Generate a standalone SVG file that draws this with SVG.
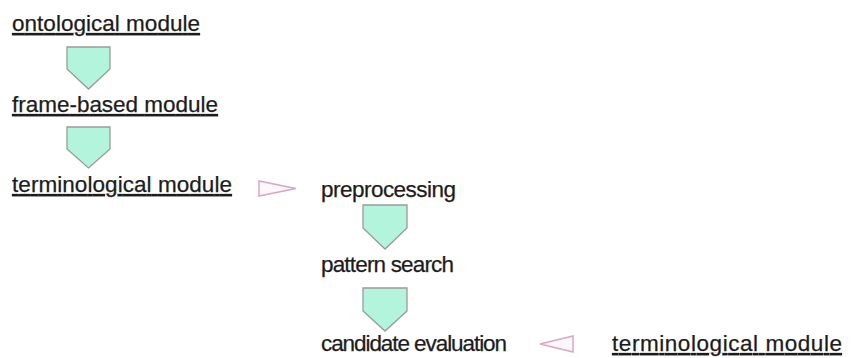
<svg xmlns="http://www.w3.org/2000/svg" width="853" height="358" viewBox="0 0 853 358">
<style>
text{font-family:"Liberation Sans",Arial,sans-serif;font-size:22.5px;fill:#1c1c1c;stroke:#1c1c1c;stroke-width:0.25}
.u{text-decoration:underline}
.pent{fill:#b3f5dc;stroke:#9a9a9a;stroke-width:1.3}
.tri{fill:#fdf6fa;stroke:#d9a6c4;stroke-width:1.5}
</style>
<rect width="853" height="358" fill="#fff"/>
<g id="ontological"><text class="u" x="12" y="31" textLength="188">ontological module</text></g>
<g id="framebased"><text class="u" x="12" y="112" textLength="206">frame-based module</text></g>
<g id="terminological1"><text class="u" x="12" y="192" textLength="220">terminological module</text></g>
<g id="preprocessing"><text x="321" y="197" textLength="135">preprocessing</text></g>
<g id="patternsearch"><text x="321" y="272" textLength="133">pattern search</text></g>
<g id="candidate"><text x="321" y="351" textLength="186">candidate evaluation</text></g>
<g id="terminological2"><text class="u" x="612" y="351" textLength="230">terminological module</text></g>
<g id="connectors">
<polygon class="pent" points="67,47 110,47 110,69 88.5,89 67,69"/>
<polygon class="pent" points="67,127 110,127 110,149 88.5,168 67,149"/>
<polygon class="pent" points="363,205 407,205 407,228 385,249 363,228"/>
<polygon class="pent" points="363,288 407,288 407,311 385,331 363,311"/>
<polygon class="tri" points="259,181 259,196 296,188.5"/>
<polygon class="tri" points="573,336 573,352 540,344"/>
</g>
</svg>
